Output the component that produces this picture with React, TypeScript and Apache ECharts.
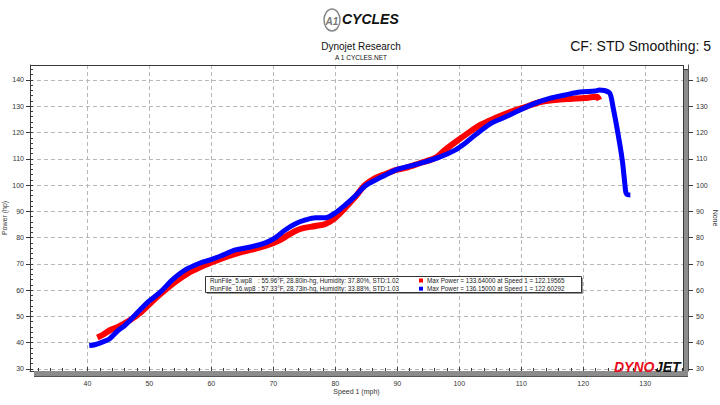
import React, { useEffect, useRef } from "react";
import * as echarts from "echarts";

const xTicks = [40, 50, 60, 70, 80, 90, 100, 110, 120, 130];
const yTicks = [30, 40, 50, 60, 70, 80, 90, 100, 110, 120, 130, 140];

const redSpeed = [41.6, 42.5, 43.7, 45.0, 46.9, 48.5, 50.2, 51.8, 54.2, 56.6, 59.0, 61.5, 63.9, 66.3, 68.7, 71.1, 72.7, 74.4, 76.8, 78.4, 80.0, 81.6, 83.2, 84.8, 86.5, 88.1, 89.7, 91.3, 93.7, 96.1, 97.7, 99.4, 101.0, 103.4, 105.8, 108.2, 110.6, 113.1, 115.5, 117.9, 120.3, 121.5, 122.2, 122.6];
const redPower = [42.0, 43.0, 44.8, 46.1, 48.6, 51.3, 55.1, 58.5, 63.1, 66.9, 69.6, 71.9, 73.8, 75.3, 76.8, 79.1, 81.4, 83.3, 84.4, 85.2, 87.5, 91.3, 95.4, 100.0, 102.7, 104.2, 105.7, 106.5, 108.4, 110.3, 113.4, 116.4, 119.1, 122.9, 125.5, 127.8, 129.7, 131.6, 132.4, 132.8, 133.1, 133.5, 133.64, 132.4];

const blueSpeed = [40.3, 41.2, 42.6, 43.6, 44.8, 46.1, 47.7, 49.8, 51.8, 53.7, 55.8, 58.2, 59.8, 61.5, 63.9, 66.3, 68.7, 70.3, 71.9, 73.5, 75.2, 76.8, 78.4, 80.0, 81.6, 83.2, 84.8, 86.5, 88.1, 89.7, 92.1, 94.5, 96.9, 99.4, 101.0, 102.6, 105.0, 107.4, 109.8, 112.3, 114.7, 117.1, 119.5, 121.9, 122.6, 123.4, 124.3, 124.8, 125.6, 126.3, 126.7, 126.9, 127.2, 127.6];
const bluePower = [38.9, 39.2, 40.4, 41.5, 44.3, 46.7, 50.5, 55.5, 59.3, 63.9, 67.7, 70.3, 71.5, 73.0, 75.3, 76.4, 78.0, 79.9, 82.9, 85.2, 86.7, 87.5, 87.5, 89.4, 92.4, 95.8, 99.6, 101.9, 103.8, 105.7, 107.3, 108.8, 110.7, 113.4, 116.0, 119.1, 123.3, 125.9, 128.6, 131.2, 133.1, 134.3, 135.4, 135.8, 136.15, 136.0, 134.9, 129.8, 119.7, 109.5, 100.8, 97.0, 96.3, 96.2];

const legendNames = ["RunFile_5.wp8", "RunFile_16.wp8"];
const legendConds = [
  ": 55.96\u00b0F, 28.80in-hg, Humidity: 37.80%, STD:1.02",
  ": 57.33\u00b0F, 28.73in-hg, Humidity: 33.88%, STD:1.03",
];
const legendMax = [
  "Max Power = 133.64000 at Speed 1 = 122.19565",
  "Max Power = 136.15000 at Speed 1 = 122.60292",
];
const runColors = ["#ff0000", "#0000ff"];

const X_MIN = 30.74;
const X_MAX = 136.1;
const Y_MIN = 29.2;
const Y_MAX = 145.7;

const minorX: number[] = [];
for (let v = 32; v <= 136; v += 2) minorX.push(v);
const minorY: number[] = [];
for (let v = 30; v <= 144; v += 2) minorY.push(v);

const FONT = "Liberation Sans";

export default function App() {
  const ref = useRef<HTMLDivElement>(null);
  useEffect(() => {
    if (!ref.current) return;
    const chart = echarts.init(ref.current, null, { renderer: "svg" });
    const axisColor = "#3a3a3a";
    const labelStyle = { fontSize: 7, color: "#333", fontFamily: FONT };
    const series: any[] = [
      {
        type: "line",
        name: legendNames[0],
        xAxisIndex: 0,
        yAxisIndex: 0,
        data: redSpeed.map((s, i) => [s, redPower[i]]),
        showSymbol: false,
        smooth: 0.3,
        lineStyle: { color: runColors[0], width: 6 },
        z: 3,
      },
      {
        type: "line",
        name: legendNames[1],
        xAxisIndex: 0,
        yAxisIndex: 0,
        data: blueSpeed.map((s, i) => [s, bluePower[i]]),
        showSymbol: false,
        smooth: 0.3,
        lineStyle: { color: runColors[1], width: 5 },
        z: 4,
      },
    ];

    const graphic: any[] = [
      // logo
      {
        type: "ellipse",
        shape: { cx: 332, cy: 20, rx: 8, ry: 11 },
        style: { fill: "none", stroke: "#8a8a8a", lineWidth: 1.5 },
      },
      {
        type: "text",
        x: 332,
        y: 21,
        style: { text: "A1", font: `italic bold 10px ${FONT}`, fill: "#777", textAlign: "center", textVerticalAlign: "middle" },
      },
      {
        type: "text",
        x: 342,
        y: 19,
        style: { text: "CYCLES", font: `italic bold 14px ${FONT}`, fill: "#111", textAlign: "left", textVerticalAlign: "middle" },
      },
      // titles
      {
        type: "text",
        x: 361,
        y: 46,
        style: { text: "Dynojet Research", font: `10px ${FONT}`, fill: "#111", textAlign: "center", textVerticalAlign: "middle" },
      },
      {
        type: "text",
        x: 361,
        y: 57,
        style: { text: "A 1 CYCLES.NET", font: `6.5px ${FONT}`, fill: "#111", textAlign: "center", textVerticalAlign: "middle" },
      },
      {
        type: "text",
        x: 711,
        y: 46,
        style: { text: "CF: STD Smoothing: 5", font: `14px ${FONT}`, fill: "#111", textAlign: "right", textVerticalAlign: "middle" },
      },
      // frame 3D shadow bars
      { type: "rect", shape: { x: 683, y: 70, width: 5, height: 307 }, style: { fill: "#8c8c8c" }, z: 1 },
      { type: "rect", shape: { x: 34, y: 371, width: 654, height: 6 }, style: { fill: "#8c8c8c" }, z: 1 },
      { type: "line", shape: { x1: 34, y1: 376.5, x2: 688, y2: 376.5 }, style: { stroke: "#555", lineWidth: 1 }, z: 1 },
      // frame lines
      { type: "line", shape: { x1: 30, y1: 65.5, x2: 683, y2: 65.5 }, style: { stroke: axisColor, lineWidth: 1 }, z: 5 },
      { type: "line", shape: { x1: 683.5, y1: 65, x2: 683.5, y2: 371 }, style: { stroke: axisColor, lineWidth: 1 }, z: 5 },
      // legend box
      { type: "rect", shape: { x: 207, y: 278, width: 376, height: 16 }, style: { fill: "#9a9a9a" }, z: 10 },
      { type: "rect", shape: { x: 205.5, y: 276.5, width: 376, height: 16 }, style: { fill: "#fff", stroke: "#333", lineWidth: 1 }, z: 11 },
    ];
    [0, 1].forEach((i) => {
      const yy = 280.5 + i * 8.2;
      graphic.push(
        { type: "text", x: 210, y: yy, z: 12, style: { text: legendNames[i], font: `6.3px ${FONT}`, fill: "#222", textVerticalAlign: "middle" } },
        { type: "text", x: 258, y: yy, z: 12, style: { text: legendConds[i], font: `6.3px ${FONT}`, fill: "#222", textVerticalAlign: "middle" } },
        { type: "rect", z: 12, shape: { x: 419, y: yy - 2, width: 4, height: 4 }, style: { fill: runColors[i] } },
        { type: "text", x: 427, y: yy, z: 12, style: { text: legendMax[i], font: `6.3px ${FONT}`, fill: "#222", textVerticalAlign: "middle" } }
      );
    });
    // Dynojet logo
    graphic.push(
      { type: "text", x: 614, y: 367, z: 12, style: { text: "DYNO", font: `italic bold 14px ${FONT}`, fill: "#e8101e", textVerticalAlign: "middle" } },
      { type: "text", x: 655, y: 367, z: 12, style: { text: "JET", font: `italic bold 14px ${FONT}`, fill: "#111", textVerticalAlign: "middle" } }
    );

    const splitLine = { show: true, lineStyle: { color: "#b8b8b8", type: [4, 3] as any, width: 1 } };

    chart.setOption({
      animation: false,
      backgroundColor: "#fff",
      grid: { left: 30, top: 65, right: 37, bottom: 34, containLabel: false, outerBoundsMode: "none" },
      xAxis: [
        {
          type: "value",
          min: X_MIN,
          max: X_MAX,
          position: "bottom",
          name: "Speed 1 (mph)",
          nameLocation: "middle",
          nameGap: 17,
          nameMoveOverlap: false,
          nameTextStyle: { fontSize: 7, color: "#333", fontFamily: FONT },
          axisLine: { show: true, onZero: false, lineStyle: { color: axisColor } },
          axisTick: { show: true, inside: true, length: 4, customValues: xTicks, lineStyle: { color: axisColor } },
          axisLabel: { ...labelStyle, customValues: xTicks, margin: 9, formatter: (v: number) => String(Math.round(v)) },
          splitLine,
        },
        {
          type: "value",
          min: X_MIN,
          max: X_MAX,
          position: "bottom",
          axisLine: { show: false, onZero: false },
          axisTick: { show: true, inside: true, length: 3, customValues: minorX, lineStyle: { color: axisColor } },
          axisLabel: { show: false },
          splitLine: { show: false },
        },
      ],
      yAxis: [
        {
          type: "value",
          min: Y_MIN,
          max: Y_MAX,
          position: "left",
          name: "Power (hp)",
          nameLocation: "middle",
          nameRotate: 90,
          nameGap: 22,
          nameMoveOverlap: false,
          nameTextStyle: { fontSize: 7, color: "#333", fontFamily: FONT },
          axisLine: { show: true, onZero: false, lineStyle: { color: axisColor } },
          axisTick: { show: true, inside: false, length: 4, customValues: yTicks, lineStyle: { color: axisColor } },
          axisLabel: { ...labelStyle, customValues: yTicks, margin: 6, formatter: (v: number) => String(Math.round(v)) },
          splitLine,
        },
        {
          type: "value",
          min: Y_MIN,
          max: Y_MAX,
          position: "left",
          axisLine: { show: false, onZero: false },
          axisTick: { show: true, inside: true, length: 3, customValues: minorY, lineStyle: { color: axisColor } },
          axisLabel: { show: false },
          splitLine: { show: false },
        },
        {
          type: "value",
          min: Y_MIN,
          max: Y_MAX,
          position: "right",
          offset: 5,
          name: "None",
          nameLocation: "middle",
          nameRotate: -90,
          nameGap: 24,
          nameMoveOverlap: false,
          nameTextStyle: { fontSize: 7, color: "#333", fontFamily: FONT },
          axisLine: { show: true, onZero: false, lineStyle: { color: "#555" } },
          axisTick: { show: true, inside: false, length: 5, customValues: yTicks, lineStyle: { color: axisColor } },
          axisLabel: { ...labelStyle, customValues: yTicks, margin: 8, formatter: (v: number) => String(Math.round(v)) },
          splitLine: { show: false },
        },
        {
          type: "value",
          min: Y_MIN,
          max: Y_MAX,
          position: "right",
          offset: 5,
          axisLine: { show: false, onZero: false },
          axisTick: { show: true, inside: true, length: 4, customValues: minorY, lineStyle: { color: axisColor } },
          axisLabel: { show: false },
          splitLine: { show: false },
        },
      ],
      graphic,
      series,
    });
    return () => chart.dispose();
  }, []);
  return <div ref={ref} style={{ width: 720, height: 405, position: "fixed", left: 0, top: 0 }} />;
}
